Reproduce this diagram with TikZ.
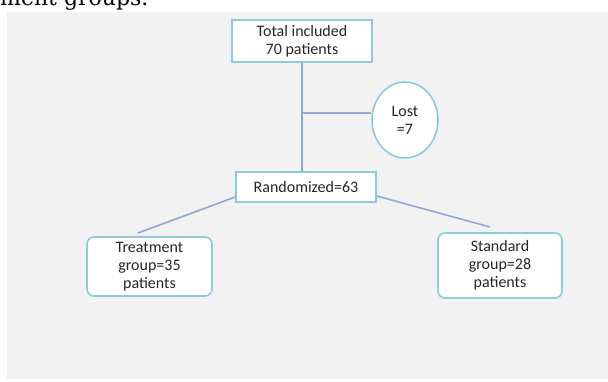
\documentclass[tikz,border=0pt]{standalone}
\usepackage{fontspec}
\setmainfont{Carlito}
\newfontfamily\capfont{DejaVu Serif}
\usetikzlibrary{shapes.geometric}
\definecolor{bggray}{HTML}{F2F2F2}
\definecolor{boxblue}{HTML}{8CCBDC}
\definecolor{linkblue}{HTML}{8FA8D6}
\tikzset{
  every node/.style={font=\fontsize{16}{18}\selectfont, text=black!85, align=center},
  sqbox/.style={draw=boxblue, line width=1.6pt, fill=white, inner sep=0pt},
  rbox/.style={draw=boxblue, line width=1.6pt, fill=white, rounded corners=7pt, inner sep=0pt},
  lostell/.style={draw=boxblue, line width=1.6pt, fill=white, ellipse, inner sep=0pt},
  link/.style={draw=linkblue, line width=1.6pt}
}
\begin{document}
\begin{tikzpicture}[x=1pt,y=-1pt]
\useasboundingbox (0,0) rectangle (608,381);
\clip (0,0) rectangle (608,381);
\fill[white] (0,0) rectangle (608,381);
\fill[bggray] (7,12) rectangle (608,379);
\node[anchor=base west, font=\capfont\fontsize{22}{26}\selectfont, text=black, inner sep=0pt] (cap) at (0,5) {ment groups.};
\node[sqbox, minimum width=140pt, minimum height=42pt] (total) at (302,41) {Total included\\70 patients};
\node[lostell, minimum width=66pt, minimum height=76pt] (lost) at (405,120) {Lost\\=7};
\node[sqbox, minimum width=140pt, minimum height=30pt] (rand) at (306,187) {Randomized=63};
\node[rbox, minimum width=125pt, minimum height=59pt] (treat) at (149.5,266.5) {Treatment\\group=35\\patients};
\node[rbox, minimum width=124pt, minimum height=65pt] (std) at (500,265.5) {Standard\\group=28\\patients};
\coordinate (j) at (302,113);
\coordinate (tl) at (138,233);
\coordinate (sr) at (490,227);
\draw[link] (total.south -| j) -- (rand.north -| j);
\draw[link] (j) -- (j -| lost.west);
\draw[link] (rand.south west |- 0,197) -- (tl);
\draw[link] (rand.south east |- 0,196) -- (sr);
\end{tikzpicture}
\end{document}
